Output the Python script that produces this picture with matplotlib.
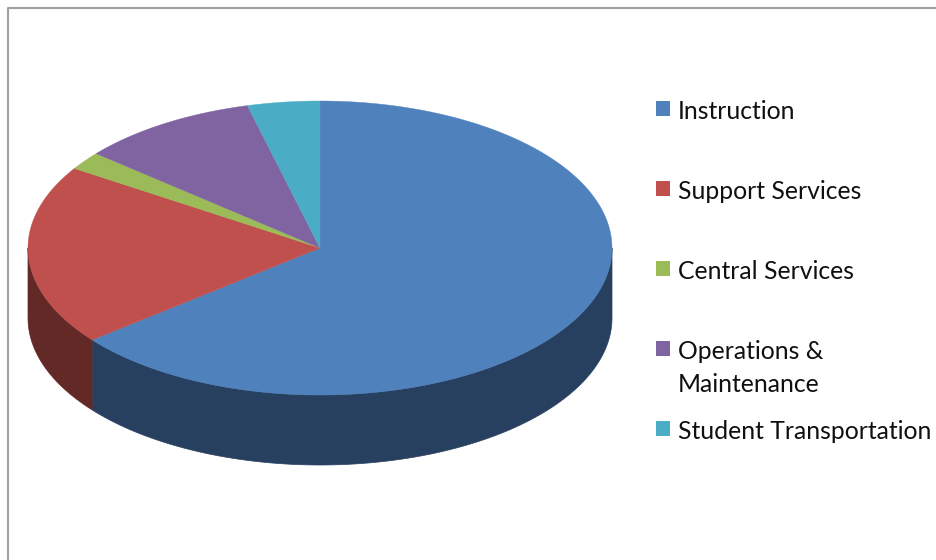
import numpy as np
from matplotlib import pyplot as plt
from matplotlib.patches import Polygon, Rectangle

categories = ["Instruction", "Support Services", "Central Services",
              "Operations &\nMaintenance", "Student Transportation"]
values = [64.25, 19.85, 2.0, 9.9, 4.0]
colors = ["#4f81bd", "#c0504d", "#9bbb59", "#8064a2", "#4bacc6"]
side_colors = ["#284060", "#632927", "#4f6228", "#403152", "#215968"]
legend_y = [110, 190, 270, 350, 430]

CX, CY = 320, 248
RX, RY = 292, 147
DEPTH = 70


def rim(a0, a1, drop=0):
    # points on the ellipse, angles clockwise from 12 o'clock in degrees
    t = np.radians(np.linspace(a0, a1, max(int(abs(a1 - a0) * 2), 2)))
    return np.column_stack([CX + RX * np.sin(t), CY - RY * np.cos(t) + drop])


fig = plt.figure(figsize=(9.36, 5.6), dpi=100)
ax = fig.add_axes([0, 0, 1, 1])
ax.set_xlim(0, 936)
ax.set_ylim(560, 0)
ax.axis("off")

# chart frame, open on the right and bottom edges of the canvas
ax.plot([7.5, 7.5, 936], [560, 7.5, 7.5], color="#a0a0a0", lw=1.5, solid_capstyle="butt")

edges = np.concatenate([[0], np.cumsum(values)]) / sum(values) * 360

# outer wall: only the front half of the ellipse (90..270 deg) is visible
for i in range(len(values)):
    a0 = max(edges[i], 90)
    a1 = min(edges[i + 1], 270)
    if a1 <= a0:
        continue
    wall = np.vstack([rim(a0, a1), rim(a0, a1, DEPTH)[::-1]])
    ax.add_patch(Polygon(wall, closed=True, fc=side_colors[i], ec=side_colors[i], lw=0.5))

# top face
for i in range(len(values)):
    top = np.vstack([[CX, CY], rim(edges[i], edges[i + 1])])
    ax.add_patch(Polygon(top, closed=True, fc=colors[i], ec=colors[i], lw=0.3))

# legend
for name, c, y in zip(categories, colors, legend_y):
    ax.add_patch(Rectangle((656, y - 9), 14, 14.5, fc=c, ec="none"))
    ax.text(678, y - 10, name, family="Lato", fontsize=17.8, color="#101010",
            va="top", ha="left", linespacing=1.5)

fig.savefig("out.png", dpi=100)
